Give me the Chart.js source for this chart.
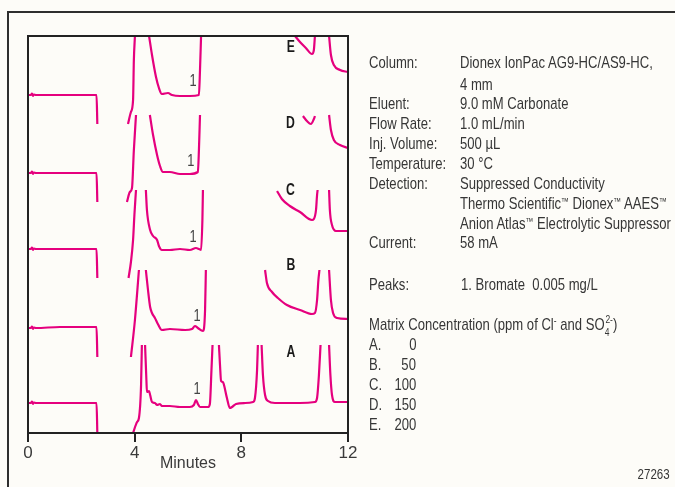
<!DOCTYPE html>
<html>
<head>
<meta charset="utf-8">
<script src="https://cdn.jsdelivr.net/npm/chart.js@4.4.1/dist/chart.umd.min.js"></script>
<style>
html,body{margin:0;padding:0;background:#fdfcf8;overflow:hidden;}
#wrap{position:relative;width:675px;height:487px;overflow:hidden;background:#fdfcf8;}
#frame{position:absolute;left:7px;top:11px;width:720px;height:520px;border-left:2px solid #2e2e2e;border-top:2px solid #2e2e2e;box-sizing:border-box;}
#c{position:absolute;left:0;top:0;}
.t{position:absolute;white-space:nowrap;color:#363636;font-size:17px;line-height:20px;height:20px;transform-origin:0 50%;font-family:"Liberation Sans",Arial,sans-serif;}
.r{transform-origin:100% 50%;text-align:right;}
.tm{font-size:0.6em;position:relative;top:-0.35em;}
.sp{font-size:11px;position:relative;top:-6px;}
.st{display:inline-block;position:relative;width:11px;height:20px;vertical-align:top;}
.st .a{position:absolute;left:1px;top:-1px;font-size:11px;line-height:11px;}
.st .b{position:absolute;left:0px;top:12px;font-size:11px;line-height:11px;}
</style>
</head>
<body>
<div id="wrap">
  <div id="frame"></div>
  <canvas id="c" width="675" height="487"></canvas>
</div>
<script>
// ---------- DATA (minutes, signal in arbitrary units; null = pen off scale) ----------
const traceNames = ['A', 'B', 'C', 'D', 'E'];
const matrixPpm = ['0', '50', '100', '150', '200'];
const xTicks = [0, 4, 8, 12];

const traceA = [[0,30],[0.11,30],[0.15,31.5],[0.19,29],[0.22,30.5],[0.3,30],[1.2,30],[2.57,30],[2.6,0],[3.2,null],
  [3.94,0],[4.09,11],[4.16,15],[4.24,48],[4.27,88],[4.33,null],
  [4.39,88],[4.44,53],[4.46,41],[4.54,42],[4.58,38],[4.65,31],[4.76,30],[4.84,28],[4.95,29],[5.02,27],[5.32,27],[5.7,26],[6.07,26],
  [6.22,28],[6.3,33],[6.37,29],[6.45,26],[6.75,26],[6.82,29],[6.88,63],[6.92,88],[7.0,null],
  [7.16,88],[7.2,68],[7.24,52],[7.31,51],[7.35,48],[7.46,35],[7.57,25],[7.65,26],[7.8,29],[8.14,30],[8.44,31],[8.51,35],[8.59,63],[8.62,88],[8.7,null],
  [8.76,88],[8.81,58],[8.89,38],[9.0,32],[9.26,30],[10.2,30],[10.76,31],[10.84,35],[10.91,58],[10.97,88],[11.1,null],
  [11.29,88],[11.34,58],[11.4,38],[11.51,31],[12,31]];

const traceB = [[0,105],[0.11,105],[0.15,106.5],[0.19,104],[0.22,105.5],[0.3,105],[1.2,106],[2.57,106],[2.6,76],[3.2,null],
  [3.86,76],[4.01,113],[4.16,163],[4.3,null],
  [4.42,163],[4.5,143],[4.58,126],[4.65,120],[4.76,115],[4.87,109],[5.02,103],[5.32,104],[5.89,103],[6.15,104],
  [6.26,107],[6.37,105],[6.56,102],[6.64,123],[6.67,163],[7.5,null],
  [8.89,163],[8.96,150],[9.15,141],[9.37,135],[9.71,128],[10.2,123],[10.65,119],[10.76,120],[10.84,133],[10.89,153],[10.93,163],[11.1,null],
  [11.29,163],[11.36,133],[11.44,120],[11.59,115],[12,114]];

const traceC = [[0,184],[0.11,184],[0.15,185.5],[0.19,183],[0.22,184.5],[0.3,184],[1.2,184],[2.57,184],[2.6,155],[3.2,null],
  [3.77,155],[3.86,171],[3.94,193],[3.99,218],[4.05,243],[4.2,null],
  [4.42,243],[4.46,223],[4.58,203],[4.69,197],[4.84,193],[4.91,187],[5.02,183],[5.32,183],[5.7,184],[6.07,183],
  [6.3,185],[6.41,184],[6.49,183],[6.54,213],[6.56,243],[7.5,null],
  [9.34,242],[9.52,234],[9.82,227],[10.2,221],[10.65,213],[10.72,214],[10.8,223],[10.84,238],[10.86,243],[11.1,null],
  [11.29,243],[11.32,223],[11.4,208],[11.55,202],[12,202]];

const traceD = [[0,260],[0.11,260],[0.15,261.5],[0.19,259],[0.22,260.5],[0.3,260],[1.2,260],[2.57,260],[2.6,231],[3.2,null],
  [3.71,231],[3.82,241],[3.9,245],[3.97,283],[4.05,318],[4.3,null],
  [4.57,318],[4.69,298],[4.84,278],[4.95,267],[5.06,261],[5.32,261],[5.7,259],[6.07,259],[6.37,261],[6.41,283],[6.45,318],[7.5,null],
  [10.31,317],[10.46,312],[10.61,309],[10.72,314],[10.76,317],[11.0,null],
  [11.29,318],[11.36,303],[11.47,293],[11.7,288],[12,285]];

const traceE = [[0,338],[0.11,338],[0.15,339.5],[0.19,337],[0.22,338.5],[0.3,338],[1.2,338],[2.57,338],[2.6,309],[3.2,null],
  [3.75,309],[3.86,321],[3.94,333],[3.97,373],[4.01,397],[4.3,null],
  [4.54,397],[4.65,378],[4.8,356],[4.91,345],[5.02,339],[5.25,340],[5.4,338],[5.7,337],[6.07,337],[6.41,338],[6.45,363],[6.49,397],[7.5,null],
  [10.01,397],[10.2,391],[10.42,385],[10.65,379],[10.72,383],[10.76,397],[11.0,null],
  [11.29,397],[11.36,378],[11.47,368],[11.7,363],[12,361]];

const traces = [traceA, traceB, traceC, traceD, traceE];
// label anchors (minutes, signal)
const letterPos = [[9.86,81],[9.86,168],[9.84,243],[9.84,310],[9.86,386]];
const peak1Pos = [[6.34,43],[6.34,116],[6.19,195],[6.11,271],[6.19,351]];

const condLabels = ['Column:', '', 'Eluent:', 'Flow Rate:', 'Inj. Volume:', 'Temperature:', 'Detection:', '', '', 'Current:'];
const condValues = ['Dionex IonPac AG9-HC/AS9-HC,', '4 mm', '9.0 mM Carbonate', '1.0 mL/min', '500 µL', '30 °C',
  'Suppressed Conductivity', 'Thermo Scientific™ Dionex™ AAES™', 'Anion Atlas™ Electrolytic Suppressor', '58 mA'];
const peakText = '1. Bromate&nbsp; 0.005 mg/L';

// ---------- FONT ----------
const FAM = '"Liberation Sans", Arial, sans-serif';
const SX = 0.77;

// ---------- PANEL ----------
const wrap = document.getElementById('wrap');
function addText(html, x, cy, opts = {}) {
  const d = document.createElement('div');
  d.className = 't' + (opts.right ? ' r' : '');
  d.innerHTML = html.replace(/™/g, '<span class="tm">™</span>');
  if (opts.size) d.style.fontSize = opts.size + 'px';
  d.style.top = (cy - 10) + 'px';
  if (opts.right) { d.style.right = (675 - x) + 'px'; } else { d.style.left = x + 'px'; }
  d.style.transform = 'scaleX(' + SX + ')';
  wrap.appendChild(d);
}
const condY = [63, 85, 104, 124, 144, 164, 184, 204, 224, 243];
condLabels.forEach((l, i) => { if (l) addText(l, 369, condY[i]); addText(condValues[i], 460, condY[i]); });
addText('Peaks:', 369, 285);
addText(peakText, 461, 285);
addText('Matrix Concentration (ppm of Cl<span class="sp">-</span> and SO<span class="st"><span class="a">2-</span><span class="b">4</span></span>)', 369, 325);
const matY = [345, 365, 385, 405, 425];
traceNames.forEach((n, i) => { addText(n + '.', 369, matY[i]); addText(matrixPpm[i], 416, matY[i], {right: true}); });
addText('27263', 670, 474, {right: true, size: 15});

// ---------- CHART ----------
const MAG = '#e5007e';
Chart.defaults.font.family = FAM;

const framePlugin = {
  id: 'frameAndLabels',
  afterDatasetsDraw(chart) {
    const {ctx, chartArea: a, scales: {x, y}} = chart;
    ctx.save();
    ctx.strokeStyle = '#222'; ctx.lineWidth = 2;
    ctx.strokeRect(a.left, a.top, a.right - a.left, a.bottom - a.top);
    ctx.textAlign = 'center'; ctx.textBaseline = 'middle';
    traceNames.forEach((n, i) => {
      ctx.save();
      ctx.translate(x.getPixelForValue(letterPos[i][0]), y.getPixelForValue(letterPos[i][1]));
      ctx.scale(0.72, 1);
      ctx.fillStyle = '#1a1a1a'; ctx.font = 'bold 17px ' + FAM;
      ctx.fillText(n, 0, 0);
      ctx.restore();
      ctx.save();
      ctx.translate(x.getPixelForValue(peak1Pos[i][0]), y.getPixelForValue(peak1Pos[i][1]));
      ctx.scale(0.8, 1);
      ctx.fillStyle = '#444'; ctx.font = '16px ' + FAM;
      ctx.fillText('1', 0, 0);
      ctx.restore();
    });
    ctx.restore();
  }
};

new Chart(document.getElementById('c'), {
  type: 'line',
  data: {
    datasets: traces.map((tr, i) => ({
      label: traceNames[i],
      data: tr.map(p => ({x: p[0], y: p[1]})),
      borderColor: MAG,
      borderWidth: 2.2,
      pointRadius: 0,
      fill: false,
      spanGaps: false,
      cubicInterpolationMode: 'monotone'
    }))
  },
  options: {
    responsive: false,
    animation: false,
    devicePixelRatio: 1,
    layout: {padding: {left: 28, top: 36, right: 327, bottom: 14}},
    plugins: {legend: {display: false}, tooltip: {enabled: false}},
    scales: {
      x: {
        type: 'linear', min: 0, max: 12,
        afterBuildTicks: s => { s.ticks = xTicks.map(v => ({value: v})); },
        ticks: {color: '#3a3a3a', font: {size: 17}, padding: 1, maxRotation: 0},
        grid: {display: true, drawOnChartArea: false, drawTicks: true, tickLength: 9, color: '#222', lineWidth: 2},
        border: {display: true, color: '#222', width: 2},
        title: {display: true, text: 'Minutes', color: '#3a3a3a', font: {size: 16}, padding: 0},
        afterFit: s => { s.height = 40; }
      },
      y: {type: 'linear', min: 0, max: 397, display: false}
    }
  },
  plugins: [framePlugin]
});
</script>
</body>
</html>
